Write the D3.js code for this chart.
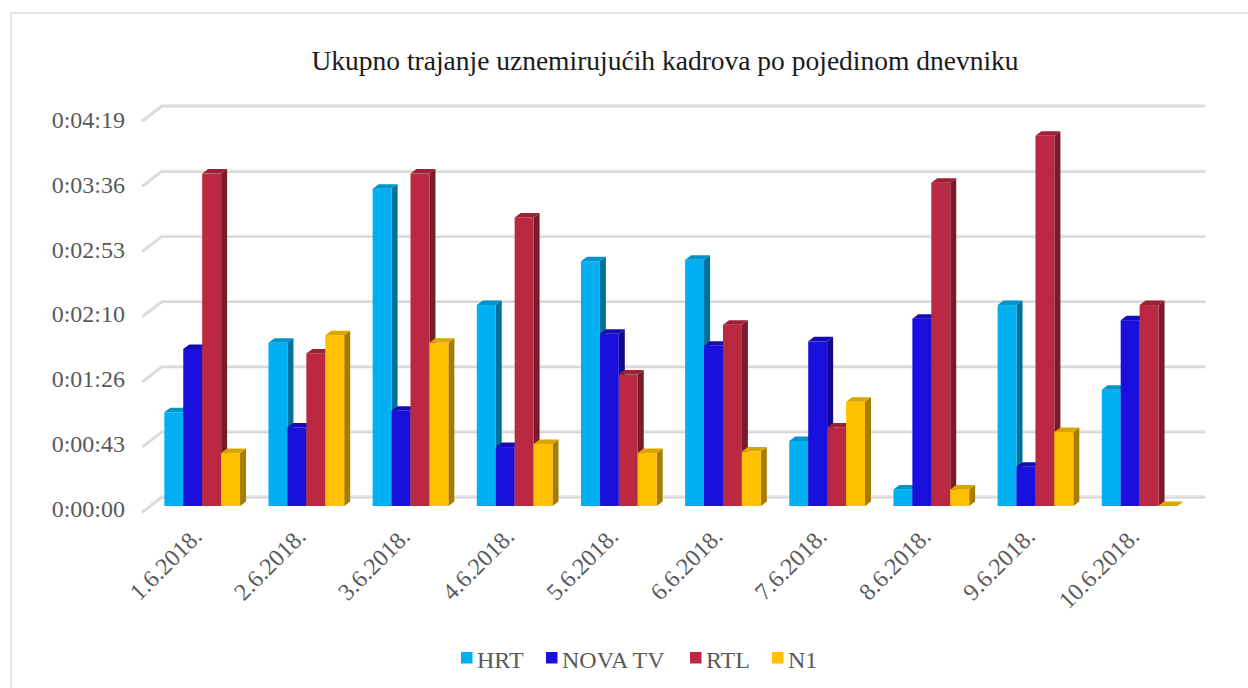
<!DOCTYPE html>
<html>
<head>
<meta charset="utf-8">
<script src="https://cdn.jsdelivr.net/npm/d3@7"></script>
<style>
  body { margin: 0; background: #fff; }
  text { font-family: "Liberation Serif", "Times New Roman", serif; }
</style>
</head>
<body>
<div class="canvas"></div>
<script>
// data (durations in seconds)
const categories = ['1.6.2018.', '2.6.2018.', '3.6.2018.', '4.6.2018.', '5.6.2018.',
    '6.6.2018.', '7.6.2018.', '8.6.2018.', '9.6.2018.', '10.6.2018.'];
const seriesNames = ['HRT', 'NOVA TV', 'RTL', 'N1'];
const hrt  = [62, 108, 210, 133, 162, 163, 43, 11, 133, 77];
const nova = [104, 52, 63, 39, 114, 106, 109, 124, 26, 123];
const rtl  = [220, 101, 220, 191, 87, 120, 52, 214, 245, 133];
const n1   = [35, 113, 108, 41, 35, 36, 69, 11, 49, 0];
const tickValues = [0, 43.2, 86.4, 129.6, 172.8, 216, 259.2];

const serif = '"Liberation Serif", "Times New Roman", serif';

const colors = {
    'HRT':     {front: '#00b0f0', top: '#0093cc', side: '#00709c'},
    'NOVA TV': {front: '#1a10de', top: '#150cb4', side: '#110a8e'},
    'RTL':     {front: '#bb2841', top: '#9c2136', side: '#7b1a2b'},
    'N1':      {front: '#ffc000', top: '#dba500', side: '#a67d00'}
};

const values = [hrt, nova, rtl, n1];
const data = categories.map((c, i) => ({
    cat: c,
    vals: seriesNames.map((s, j) => ({name: s, value: values[j][i]}))
}));

const svg = d3.select('.canvas')
    .append('svg')
        .attr('width', 1248)
        .attr('height', 688);

// chart border
svg.append('rect')
    .attr('x', 11).attr('y', 13)
    .attr('width', 1240).attr('height', 690)
    .attr('fill', 'none')
    .attr('stroke', '#d9d9d9')
    .attr('stroke-width', 1.5);

// title
svg.append('text')
    .attr('x', 665).attr('y', 70)
    .attr('text-anchor', 'middle')
    .attr('font-family', serif)
    .attr('font-size', 27.5)
    .attr('fill', '#1a1a1a')
    .text('Ukupno trajanje uznemirujućih kadrova po pojedinom dnevniku');

const maxVal = 259.2;
const depthX = 18.4, depthY = -14.3;   // floor depth
const barDX = 6, barDY = -4.5;         // bar depth

// scales
const yBack = d3.scaleLinear().domain([0, maxVal]).range([497, 106]);
const yBar = d3.scaleLinear().domain([0, maxVal]).range([506, 114.4]);
const yLab = d3.scaleLinear().domain([0, maxVal]).range([509, 119.6]);

const x = d3.scaleBand()
    .domain(categories)
    .range([150.1, 1191.7])
    .paddingInner(0.273)
    .paddingOuter(0.1365);

const xs = d3.scaleBand()
    .domain(seriesNames)
    .range([0, x.bandwidth()]);

// gridlines on back wall + side diagonal
const grid = svg.append('g');
const backLeft = 161.7, backRight = 1204;
tickValues.forEach(v => {
    const yy = yBack(v);
    grid.append('path')
        .attr('d', `M${backLeft - depthX},${yy - depthY} L${backLeft},${yy} L${backRight},${yy}`)
        .attr('fill', 'none')
        .attr('stroke', '#d6d6d6')
        .attr('stroke-width', 3)
        .attr('stroke-linecap', 'round')
        .attr('stroke-linejoin', 'round');
    grid.append('path')
        .attr('d', `M${backLeft - depthX},${yy - depthY - 0.8} L${backLeft},${yy - 0.8} L${backRight},${yy - 0.8}`)
        .attr('fill', 'none')
        .attr('stroke', '#ececec')
        .attr('stroke-width', 1);
});

// y axis labels
const fmt = s => {
    const t = Math.round(s);
    const m = Math.floor(t / 60), sec = t % 60;
    return `0:${String(m).padStart(2, '0')}:${String(sec).padStart(2, '0')}`;
};
const yAxis = d3.axisLeft(yLab)
    .tickValues(tickValues)
    .tickFormat(fmt)
    .tickSize(0)
    .tickPadding(0);
const yAxisGroup = svg.append('g')
    .attr('transform', 'translate(125,0)')
    .call(yAxis);
yAxisGroup.select('.domain').remove();
yAxisGroup.selectAll('text')
    .attr('font-family', serif)
    .attr('font-size', 24)
    .attr('fill', '#595959');

// bars
const groups = svg.append('g').selectAll('g')
    .data(data)
    .enter()
    .append('g')
    .attr('transform', d => `translate(${x(d.cat)},0)`);

groups.each(function(d) {
    const g = d3.select(this);
    d.vals.forEach(b => {
        const x0 = xs(b.name), w = xs.bandwidth();
        const x1 = x0 + w;
        const y0 = yBar(0), yt = yBar(b.value);
        const c = colors[b.name];
        // side face
        g.append('path')
            .attr('d', `M${x1},${yt} L${x1 + barDX},${yt + barDY} L${x1 + barDX},${y0 + barDY} L${x1},${y0} Z`)
            .attr('fill', c.side);
        // front face
        if (b.value > 0) {
            g.append('rect')
                .attr('x', x0).attr('y', yt)
                .attr('width', w).attr('height', y0 - yt)
                .attr('fill', c.front);
        }
        // top face
        g.append('path')
            .attr('d', `M${x0},${yt} L${x0 + barDX},${yt + barDY} L${x1 + barDX},${yt + barDY} L${x1},${yt} Z`)
            .attr('fill', c.top);
    });
});

// x axis labels
const xAxis = d3.axisBottom(x).tickSize(0);
const xAxisGroup = svg.append('g').call(xAxis);
xAxisGroup.select('.domain').remove();
xAxisGroup.selectAll('text')
    .attr('y', 0)
    .attr('dy', 0)
    .attr('text-anchor', 'end')
    .attr('transform', 'translate(1,538) rotate(-45)')
    .attr('font-family', serif)
    .attr('font-size', 24)
    .attr('fill', '#595959');

// legend
const legendX = [461, 546, 690, 772];
const legend = svg.append('g').selectAll('g')
    .data(seriesNames)
    .enter()
    .append('g')
    .attr('transform', (d, i) => `translate(${legendX[i]},652)`);
legend.append('rect')
    .attr('width', 11.5).attr('height', 11.5)
    .attr('fill', d => colors[d].front);
legend.append('text')
    .attr('x', 16).attr('y', 16)
    .attr('font-family', serif)
    .attr('font-size', 24)
    .attr('fill', '#595959')
    .text(d => d);
</script>
</body>
</html>
